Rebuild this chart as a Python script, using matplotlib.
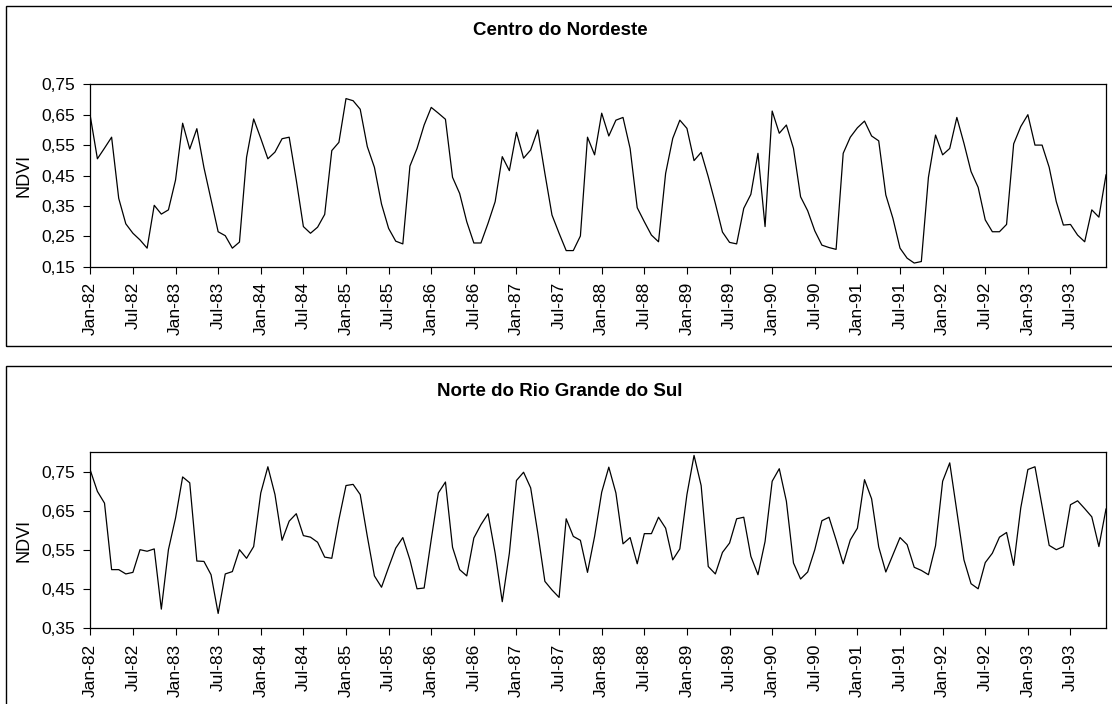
import numpy as np
import pandas as pd
import matplotlib
matplotlib.use("Agg")
import matplotlib.pyplot as plt
from matplotlib.patches import Rectangle

plt.rcParams['font.family'] = ['Liberation Sans', 'DejaVu Sans']

# Monthly NDVI, Jan-1982 .. Dec-1993
months = pd.date_range('1982-01-01', '1993-12-01', freq='MS')

ndvi_nordeste = [0.645, 0.505, 0.540, 0.576, 0.375, 0.291, 0.260, 0.238, 0.211, 0.352, 0.323, 0.337,
                 0.435, 0.622, 0.537, 0.604, 0.476, 0.370, 0.265, 0.252, 0.211, 0.231, 0.510, 0.636,
                 0.572, 0.505, 0.527, 0.571, 0.576, 0.435, 0.282, 0.260, 0.280, 0.322, 0.532, 0.559,
                 0.703, 0.696, 0.668, 0.545, 0.477, 0.356, 0.276, 0.234, 0.225, 0.481, 0.539, 0.616,
                 0.674, 0.655, 0.635, 0.444, 0.391, 0.298, 0.228, 0.228, 0.293, 0.364, 0.512, 0.466,
                 0.592, 0.507, 0.534, 0.600, 0.457, 0.320, 0.260, 0.203, 0.203, 0.251, 0.576, 0.518,
                 0.655, 0.580, 0.632, 0.641, 0.539, 0.344, 0.298, 0.254, 0.232, 0.457, 0.572, 0.632,
                 0.605, 0.499, 0.526, 0.446, 0.358, 0.264, 0.230, 0.225, 0.342, 0.388, 0.523, 0.282,
                 0.662, 0.589, 0.616, 0.539, 0.380, 0.334, 0.268, 0.221, 0.213, 0.207, 0.523, 0.576,
                 0.607, 0.629, 0.580, 0.564, 0.386, 0.309, 0.211, 0.178, 0.162, 0.167, 0.444, 0.583,
                 0.518, 0.539, 0.641, 0.556, 0.463, 0.411, 0.304, 0.265, 0.265, 0.289, 0.554, 0.611,
                 0.650, 0.550, 0.550, 0.477, 0.364, 0.287, 0.289, 0.254, 0.232, 0.337, 0.313, 0.452]

ndvi_rs = [0.754, 0.700, 0.670, 0.500, 0.500, 0.489, 0.493, 0.551, 0.547, 0.553, 0.399, 0.551,
           0.632, 0.737, 0.722, 0.522, 0.521, 0.487, 0.388, 0.489, 0.495, 0.551, 0.529, 0.559,
           0.696, 0.763, 0.692, 0.575, 0.624, 0.643, 0.587, 0.583, 0.570, 0.532, 0.529, 0.628,
           0.715, 0.718, 0.692, 0.585, 0.484, 0.455, 0.506, 0.555, 0.582, 0.525, 0.451, 0.453,
           0.577, 0.696, 0.724, 0.557, 0.500, 0.484, 0.581, 0.615, 0.643, 0.542, 0.418, 0.542,
           0.728, 0.749, 0.709, 0.594, 0.470, 0.448, 0.429, 0.630, 0.585, 0.575, 0.493, 0.585,
           0.698, 0.762, 0.696, 0.566, 0.582, 0.515, 0.592, 0.592, 0.634, 0.606, 0.525, 0.553,
           0.692, 0.792, 0.715, 0.508, 0.489, 0.544, 0.568, 0.630, 0.634, 0.534, 0.487, 0.572,
           0.726, 0.758, 0.675, 0.517, 0.476, 0.494, 0.551, 0.625, 0.634, 0.576, 0.515, 0.576,
           0.606, 0.730, 0.681, 0.558, 0.494, 0.538, 0.582, 0.564, 0.506, 0.498, 0.487, 0.561,
           0.726, 0.773, 0.649, 0.525, 0.464, 0.451, 0.518, 0.542, 0.583, 0.595, 0.511, 0.658,
           0.756, 0.763, 0.662, 0.562, 0.551, 0.559, 0.666, 0.676, 0.656, 0.635, 0.559, 0.655]

titles = ['Centro do Nordeste', 'Norte do Rio Grande do Sul']
yticks_list = [[0.15, 0.25, 0.35, 0.45, 0.55, 0.65, 0.75],
               [0.35, 0.45, 0.55, 0.65, 0.75]]
ylims = [(0.15, 0.75), (0.35, 0.80)]

W, H = 1112, 704
fig = plt.figure(figsize=(W / 100, H / 100), dpi=100)

# pixel layout: (plot top, plot bottom, box top, box bottom, title y)
layout = [(84.3, 266.7, 6.0, 345.7, 30.7),
          (452.3, 628.3, 366.0, 706.0, 391.7)]
left_px, right_px = 90.3, 1106.0

x = np.arange(len(months))
tick_pos = x[::6]
tick_labels = [m.strftime('%b-%y') for m in months[::6]]

for series, title, yticks, ylim, (ptop, pbot, btop, bbot, ty) in zip(
        [ndvi_nordeste, ndvi_rs], titles, yticks_list, ylims, layout):
    # chart-area frame
    fig.patches.append(Rectangle((6.4 / W, 1 - bbot / H), (W + 10 - 6.4) / W, (bbot - btop) / H,
                                 transform=fig.transFigure, fill=False, edgecolor='black',
                                 linewidth=1.0, clip_on=False))
    ax = fig.add_axes([left_px / W, 1 - pbot / H, (right_px - left_px) / W, (pbot - ptop) / H])
    ax.plot(x, series, color='black', linewidth=0.9)
    ax.set_xlim(0, len(months) - 1)
    ax.set_ylim(*ylim)
    ax.set_yticks(yticks)
    ax.set_yticklabels([('%.2f' % v).replace('.', ',') for v in yticks])
    ax.set_xticks(tick_pos)
    ax.set_xticklabels(tick_labels, rotation=90)
    ax.tick_params(axis='both', direction='out', length=5, width=0.8, color='black',
                   labelsize=12.5, pad=6)
    for s in ax.spines.values():
        s.set_linewidth(0.9)
        s.set_color('black')
    fig.text(24 / W, 1 - (ptop + pbot) / 2 / H, 'NDVI', rotation=90, ha='center', va='center',
             fontsize=13)
    fig.text(560 / W, 1 - ty / H, title, ha='center', va='center', fontsize=13.5,
             fontweight='bold')

fig.savefig('out.png', dpi=100)
